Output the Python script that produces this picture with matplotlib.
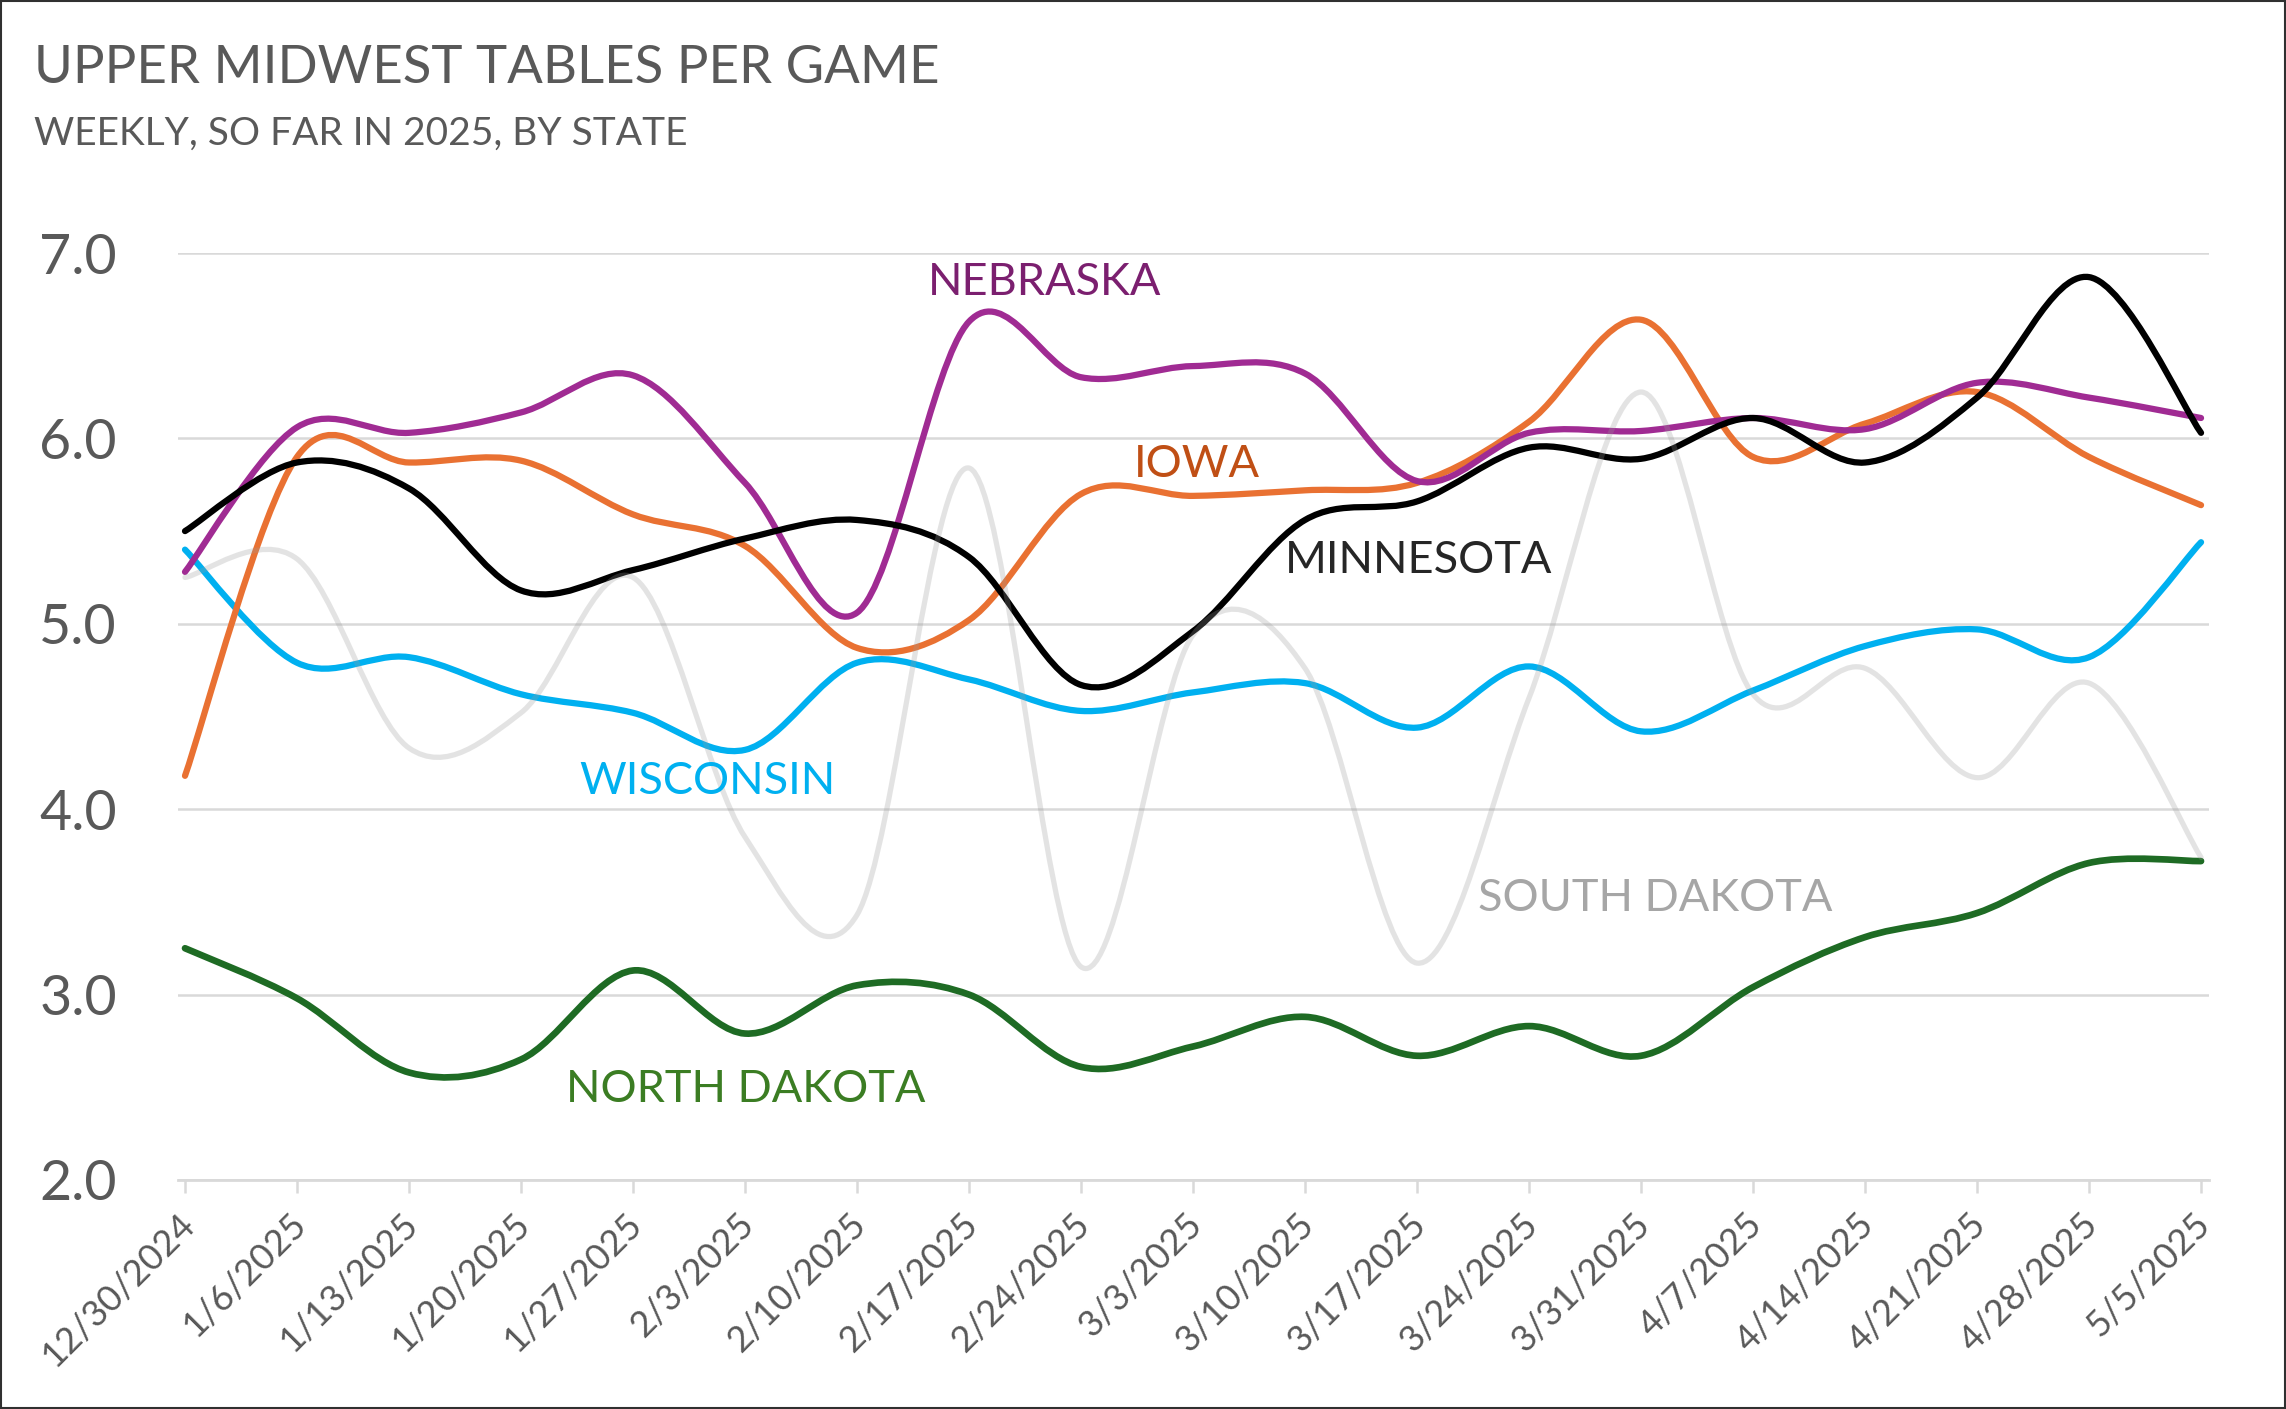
import matplotlib
matplotlib.use("Agg")
import matplotlib.pyplot as plt
from matplotlib.path import Path
from matplotlib.patches import PathPatch, Rectangle
import matplotlib.transforms as mtransforms
import numpy as np

plt.rcParams['font.family'] = ['Lato', 'DejaVu Sans']

weeks = ["12/30/2024", "1/6/2025", "1/13/2025", "1/20/2025", "1/27/2025", "2/3/2025",
         "2/10/2025", "2/17/2025", "2/24/2025", "3/3/2025", "3/10/2025", "3/17/2025",
         "3/24/2025", "3/31/2025", "4/7/2025", "4/14/2025", "4/21/2025", "4/28/2025",
         "5/5/2025"]

nebraska = [5.28, 6.06, 6.03, 6.14, 6.34, 5.76, 5.06, 6.63, 6.33, 6.39, 6.35, 5.77,
            6.03, 6.04, 6.11, 6.05, 6.30, 6.22, 6.11]
iowa = [4.18, 5.90, 5.87, 5.88, 5.59, 5.42, 4.87, 5.02, 5.70, 5.69, 5.72, 5.76,
        6.09, 6.64, 5.90, 6.08, 6.25, 5.90, 5.64]
minnesota = [5.50, 5.87, 5.73, 5.18, 5.29, 5.46, 5.56, 5.36, 4.67, 4.96, 5.56, 5.66,
             5.95, 5.89, 6.11, 5.87, 6.22, 6.87, 6.03]
wisconsin = [5.40, 4.79, 4.82, 4.62, 4.52, 4.32, 4.79, 4.70, 4.53, 4.63, 4.68, 4.44,
             4.77, 4.42, 4.64, 4.88, 4.97, 4.82, 5.44]
south_dakota = [5.25, 5.35, 4.33, 4.52, 5.25, 3.85, 3.43, 5.84, 3.15, 4.94, 4.76, 3.17,
                4.60, 6.25, 4.62, 4.76, 4.17, 4.68, 3.74]
north_dakota = [3.25, 2.98, 2.58, 2.65, 3.13, 2.79, 3.05, 3.00, 2.61, 2.72, 2.88, 2.67,
                2.83, 2.67, 3.04, 3.31, 3.44, 3.71, 3.72]

W, H = 2286, 1409
fig = plt.figure(figsize=(W / 100, H / 100), dpi=100)
ax = fig.add_axes([178 / W, 1 - 1180 / H, (2209 - 178) / W, (1180 - 253) / H])

x = np.arange(len(weeks))


def smooth_path(xs, ys):
    pts = np.column_stack([xs, ys]).astype(float)
    n = len(pts)
    verts = [pts[0]]
    codes = [Path.MOVETO]
    for i in range(n - 1):
        p0 = pts[i - 1] if i > 0 else pts[i]
        p1 = pts[i]
        p2 = pts[i + 1]
        p3 = pts[i + 2] if i + 2 < n else pts[i + 1]
        c1 = p1 + (p2 - p0) / 6.0
        c2 = p2 - (p3 - p1) / 6.0
        verts += [c1, c2, p2]
        codes += [Path.CURVE4] * 3
    return Path(verts, codes)


def draw(series, color, lw, alpha=1.0, z=3):
    patch = PathPatch(smooth_path(x, series), fill=False, edgecolor=color, lw=lw,
                      alpha=alpha, capstyle='round', joinstyle='round', zorder=z,
                      transform=ax.transData, clip_on=False)
    ax.add_patch(patch)


draw(north_dakota, '#1E6B24', 4.8, z=3)
draw(wisconsin, '#00B0F0', 4.5, z=3.1)
draw(iowa, '#E97132', 4.5, z=3.2)
draw(nebraska, '#A02B93', 4.5, z=3.3)
draw(minnesota, '#000000', 4.5, z=3.4)
draw(south_dakota, '#9A9A9A', 3.8, alpha=0.27, z=3.5)

ax.set_xlim(-0.0625, 18.071)
ax.set_ylim(2.0, 7.0)
ax.set_yticks([2, 3, 4, 5, 6, 7])
ax.set_yticklabels([f"{v:.1f}" for v in [2, 3, 4, 5, 6, 7]])
ax.set_xticks(x)
ax.set_xticklabels(weeks)

ax.grid(axis='y', color='#D9D9D9', lw=1.8, zorder=0)
ax.set_axisbelow(True)
for s in ['top', 'right', 'left']:
    ax.spines[s].set_visible(False)
ax.spines['bottom'].set_color('#D9D9D9')
ax.spines['bottom'].set_linewidth(2.0)

ax.tick_params(axis='y', length=0, pad=44, labelsize=40, labelcolor='#595959')
ax.tick_params(axis='x', length=9.6, width=1.8, color='#D9D9D9', pad=10,
               labelsize=26, labelcolor='#595959')
shift = mtransforms.ScaledTranslation(-8 / 100, 0, fig.dpi_scale_trans)
for lab in ax.get_xticklabels():
    lab.set_rotation(45)
    lab.set_ha('right')
    lab.set_va('top')
    lab.set_rotation_mode('anchor')
    lab.set_transform(lab.get_transform() + shift)

fig.text(34 / W, 1 - 83 / H, "UPPER MIDWEST TABLES PER GAME", fontsize=38,
         color='#595959', ha='left', va='baseline')
fig.text(34 / W, 1 - 145 / H, "WEEKLY, SO FAR IN 2025, BY STATE", fontsize=28,
         color='#595959', ha='left', va='baseline')

lab_kw = dict(fontsize=32.5, ha='left', va='center', zorder=5)
ax.text(6.63, 6.84, "NEBRASKA", color='#7B1F6F', **lab_kw)
ax.text(8.47, 5.86, "IOWA", color='#C04F15', **lab_kw)
ax.text(9.82, 5.34, "MINNESOTA", color='#262626', **lab_kw)
ax.text(3.52, 4.15, "WISCONSIN", color='#00B0F0', **lab_kw)
ax.text(11.54, 3.52, "SOUTH DAKOTA", color='#A6A6A6', **lab_kw)
ax.text(3.40, 2.49, "NORTH DAKOTA", color='#3B7D23', **lab_kw)

fig.patches.append(Rectangle((0.0005, 0.0008), 0.999, 0.9985, transform=fig.transFigure,
                             fill=False, ec='#303030', lw=1.5))

fig.savefig("out.png", dpi=100)
